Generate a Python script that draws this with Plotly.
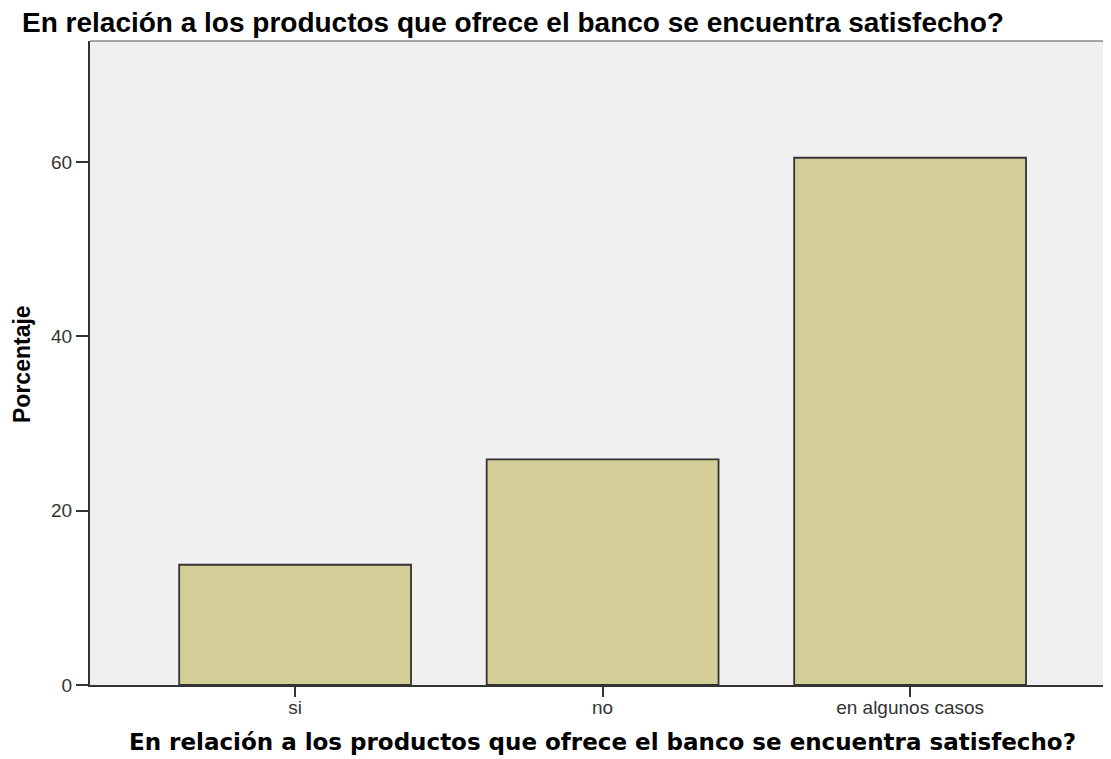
import plotly.graph_objects as go

categories = ["si", "no", "en algunos casos"]
percentages = [13.8, 25.9, 60.5]
y_ticks = [0, 20, 40, 60]

title_text = "En relación a los productos que ofrece el banco se encuentra satisfecho?"
x_title = "En relación a los productos que ofrece el banco se encuentra satisfecho?"
y_title = "Porcentaje"

W = 1103
H = 751
plot_w = W - 82
plot_h = 644

fig = go.Figure()
fig.add_trace(go.Bar(
    x=[0, 1, 2],
    y=percentages,
    width=0.754,
    marker=dict(color="#d3ce97", line=dict(color="#333333", width=1.8)),
    hoverinfo="skip",
))

fig.update_layout(
    width=W, height=H,
    margin=dict(l=82, r=0, t=33, b=H - 33 - plot_h),
    paper_bgcolor="white",
    plot_bgcolor="#f0f0f0",
    showlegend=False,
    title=dict(text=title_text, x=14/W, xanchor="left", y=1-14/H, yanchor="middle",
               font=dict(family="Liberation Sans, Arial", size=28, color="black", weight="bold")),
    xaxis=dict(
        range=[-0.667, -0.667 + plot_w/307.5],
        tickmode="array", tickvals=[0, 1, 2], ticktext=categories,
        ticks="outside", ticklen=10, tickwidth=1.5, tickcolor="#333333",
        ticklabelstandoff=-6,
        tickfont=dict(family="Liberation Sans, Arial", size=19, color="#333333"),
        showline=True, linecolor="#333333", linewidth=2,
        showgrid=False, zeroline=False,
    ),
    yaxis=dict(
        range=[0, 73.9],
        tickmode="array", tickvals=y_ticks,
        ticks="outside", ticklen=12, tickwidth=1.5, tickcolor="#333333",
        tickfont=dict(family="Liberation Sans, Arial", size=19, color="#333333"),
        showline=True, linecolor="#333333", linewidth=2,
        showgrid=False, zeroline=False,
    ),
    annotations=[
        dict(text=x_title, xref="paper", yref="paper", x=512/plot_w, y=-57/plot_h,
             xanchor="center", yanchor="middle", showarrow=False,
             font=dict(family="DejaVu Sans", size=23, color="black", weight="bold")),
        dict(text=y_title, xref="paper", yref="paper", x=-68/plot_w, y=0.4985,
             xanchor="center", yanchor="middle", showarrow=False, textangle=-90,
             font=dict(family="Liberation Sans, Arial", size=23, color="black", weight="bold")),
    ],
    shapes=[dict(type="line", xref="paper", yref="paper", x0=0, x1=1, y0=1, y1=1,
                 line=dict(color="#888888", width=1.5))],
)

fig.write_html("out.html")
